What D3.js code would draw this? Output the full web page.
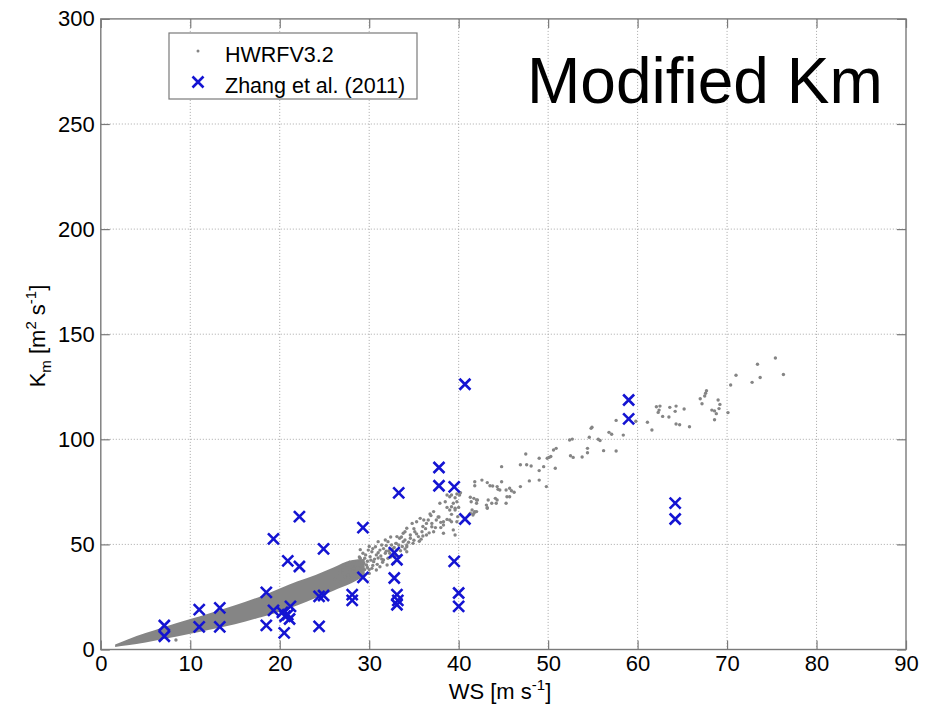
<!DOCTYPE html>
<html>
<head>
<meta charset="utf-8">
<script src="https://cdn.jsdelivr.net/npm/d3@7/dist/d3.min.js"></script>
<style>
  html, body { margin: 0; padding: 0; background: #fff; }
  svg { display: block; font-family: "Liberation Sans", Arial, Helvetica, sans-serif; }
</style>
</head>
<body>
<svg id="chart" width="932" height="713"></svg>
<script>
// Axis ticks
const xTicks = [0, 10, 20, 30, 40, 50, 60, 70, 80, 90];
const yTicks = [0, 50, 100, 150, 200, 250, 300];

// HWRFV3.2: dense low-wind band, given as lower/upper envelope of Km against WS
const bandWS    = [1.6, 3.0, 5.0, 7.0, 10.0, 12.0, 15.0, 18.0, 20.0, 22.0, 24.0, 26.0, 28.0, 29.5];
const bandLower = [1.2, 2.0, 3.3, 5.0, 7.5, 9.3, 12.0, 15.5, 18.0, 21.0, 24.5, 28.0, 31.5, 35.0];
const bandUpper = [2.4, 4.8, 7.8, 10.6, 14.5, 17.0, 21.0, 25.5, 29.0, 32.5, 35.5, 39.0, 42.5, 43.0];

// HWRFV3.2: individual points outside the dense band
const hwrfWS = [
  75.4, 76.3, 73.4, 73.7, 72.8, 71.0, 70.4, 70.1,
  67.7, 67.6, 67.5, 67.0, 67.2, 69.0, 69.2, 69.1, 68.3, 68.6, 68.8, 68.6,
  62.1, 62.5, 62.4, 62.3, 62.8, 63.6, 64.3, 64.2, 63.5, 65.2, 64.3, 64.7, 65.8, 61.1, 61.6,
  57.6, 58.4, 59.8,
  54.8, 54.9, 54.6, 55.6, 55.8, 56.8, 57.1, 57.6, 56.2, 54.4, 54.4, 53.8, 52.7, 52.4, 52.5, 52.8,
  50.9, 50.6, 50.1, 49.9, 50.3, 50.8, 49.8, 49.0, 49.0, 49.5, 48.1, 47.5, 47.6, 46.9, 47.9, 49.0,
  46.9, 44.8, 44.8, 45.7, 45.9, 46.2, 45.3, 44.4, 42.6, 41.8, 41.8, 43.2, 43.5, 43.8, 45.7, 45.4,
  44.1, 44.2, 43.3, 43.1, 43.2, 43.7, 45.3, 41.3, 41.4, 42.0, 42.0, 41.8, 41.3, 40.2, 39.8, 39.2,
  39.4, 39.8, 39.2, 39.6, 39.2, 39.8, 39.9, 41.6, 42.0,
  44.3, 44.6, 41.7, 42.1, 43.2, 44.3, 40.1, 39.6, 39.0, 38.7, 38.5, 37.9, 38.7, 39.0, 39.6, 39.2,
  40.0, 41.5, 41.7, 41.2, 38.7, 39.0, 38.3, 38.3, 39.4, 39.6, 37.2, 36.9, 36.6, 36.1, 35.7, 35.3,
  34.8, 36.4, 37.0, 37.2, 35.9, 35.1, 34.2, 33.8, 35.5, 36.4, 34.6, 34.0, 34.9, 34.2, 37.5, 38.3,
  34.0, 33.4, 33.1, 33.8, 34.2, 33.3, 32.5, 32.1, 31.8, 31.4, 31.0, 30.7, 31.2, 31.8, 32.3, 32.1,
  31.6, 30.8, 30.3, 29.9, 30.1, 29.5, 29.3, 29.0, 28.6, 29.2, 29.7, 30.5, 31.2, 30.8, 28.2, 27.9,
  27.5, 28.4, 27.1, 26.7, 27.3, 33.1, 33.4, 34.2, 32.7, 32.0, 30.3,
  26.2, 26.8, 27.6, 28.0, 28.8, 29.5, 30.0, 28.5, 27.8, 29.8, 31.0, 30.4, 32.6, 31.6, 30.0, 29.0,
  36.0, 37.8, 35.0, 36.8, 38.0, 33.0, 35.8, 32.9,
  28.3, 28.7, 29.1, 29.4, 29.8, 30.2, 30.6, 30.9, 31.3, 31.5, 31.9, 32.2, 32.4, 32.8, 33.0, 33.5,
  33.7, 34.0, 34.4, 34.6, 35.0, 35.3, 35.6, 36.0, 36.3, 36.7, 37.0, 37.4, 37.7, 38.0, 28.9, 29.6,
  30.4, 31.0, 31.9, 32.4, 30.0, 31.4, 32.9, 33.6,
  8.4
];
const hwrfKm = [
  138.7, 130.8, 135.7, 129.4, 127.1, 130.5, 125.8, 112.7,
  123.1, 121.9, 120.6, 119.3, 116.9, 118.7, 116.6, 114.6, 113.9, 113.5, 112.2, 109.3,
  115.5, 115.8, 113.9, 112.8, 110.9, 115.2, 115.8, 113.3, 110.6, 114.4, 107.3, 106.9, 106.0, 108.1, 104.4,
  109.0, 102.0, 108.6,
  105.2, 105.7, 101.0, 100.0, 99.4, 103.3, 102.4, 94.4, 94.6, 95.7, 93.6, 91.6, 100.1, 99.7, 92.2, 91.4,
  95.7, 94.9, 91.4, 91.0, 91.8, 86.2, 77.5, 91.0, 85.1, 87.0, 87.3, 93.0, 87.9, 87.9, 80.2, 80.6,
  77.5, 87.0, 79.8, 76.7, 75.5, 74.8, 75.9, 76.2, 80.6, 79.8, 77.9, 79.4, 77.9, 77.8, 72.7, 72.7,
  71.9, 69.6, 71.1, 68.7, 67.5, 69.6, 69.6, 72.4, 70.3, 71.1, 69.6, 65.6, 64.8, 74.6, 74.0, 73.5,
  69.6, 70.3, 67.9, 67.2, 60.8, 60.8, 63.2, 64.0, 65.6,
  77.5, 75.9, 71.9, 71.1, 67.2, 71.1, 73.5, 72.2, 72.7, 73.5, 70.3, 69.6, 67.6, 66.4, 66.4, 64.3,
  67.6, 66.4, 64.8, 64.3, 61.9, 61.6, 60.8, 59.2, 56.9, 54.5, 65.6, 63.7, 61.6, 61.6, 62.4, 60.8,
  60.0, 60.0, 58.4, 56.0, 56.0, 56.0, 57.7, 55.3, 53.7, 54.5, 52.9, 52.1, 50.5, 49.7, 61.6, 55.3,
  56.0, 52.9, 53.7, 51.3, 48.9, 49.7, 49.7, 51.3, 52.1, 49.7, 51.3, 48.9, 47.3, 45.8, 45.8, 43.4,
  42.6, 45.0, 46.5, 47.3, 44.1, 43.4, 45.8, 43.4, 41.8, 40.2, 40.2, 41.8, 39.4, 37.8, 39.4, 37.8,
  40.2, 37.0, 37.8, 36.3, 34.6, 47.3, 44.1, 46.5, 41.0, 40.2, 38.6,
  33.5, 32.0, 35.5, 33.8, 36.0, 38.0, 36.2, 35.0, 41.5, 42.0, 43.5, 40.0, 47.8, 48.0, 49.0, 47.5,
  58.5, 63.0, 57.5, 64.5, 58.0, 50.5, 52.5, 44.5,
  38.5, 39.0, 38.2, 41.0, 39.0, 42.5, 43.0, 40.5, 44.5, 41.5, 46.8, 47.0, 44.0, 48.5, 50.5, 47.0,
  49.0, 47.8, 51.0, 54.5, 52.0, 55.0, 51.5, 54.0, 57.5, 55.5, 60.0, 58.0, 63.0, 60.5, 44.0, 45.0,
  48.0, 46.0, 49.5, 53.5, 38.0, 43.0, 45.0, 53.5,
  4.5
];

// Zhang et al. (2011) observations
const zhangWS = [
  7.1, 7.1, 11.0, 11.0, 13.3, 13.3, 18.5, 18.5, 19.3, 19.3,
  20.5, 20.3, 20.6, 20.9, 21.2, 21.1, 20.9, 22.2, 22.2,
  24.4, 24.4, 24.9, 24.9, 28.1, 28.1, 29.3, 29.3,
  32.8, 33.1, 32.8, 33.1, 33.2, 33.1, 33.3,
  37.8, 37.8, 39.5, 39.5, 40.0, 40.0, 40.7, 40.7,
  59.0, 59.0, 64.2, 64.2
];
const zhangKm = [
  11.4, 6.3, 19.0, 10.8, 19.8, 10.8, 27.2, 11.5, 52.6, 18.6,
  7.9, 17.7, 15.8, 16.6, 20.5, 14.5, 42.2, 39.5, 63.2,
  11.0, 25.3, 47.9, 25.7, 26.1, 23.4, 58.0, 34.3,
  46.1, 42.7, 34.0, 26.1, 23.4, 21.3, 74.5,
  86.6, 77.9, 77.4, 41.9, 26.9, 20.5, 126.2, 62.1,
  118.7, 109.7, 69.6, 62.1
];

const legendLabels = ["HWRFV3.2", "Zhang et al. (2011)"];
const titleText = "Modified Km";

const svg = d3.select("#chart");
const plotL = 100.8, plotR = 906, plotT = 18.9, plotB = 649.5;

const x = d3.scaleLinear().domain([0, 90]).range([plotL, plotR]);
const y = d3.scaleLinear().domain([0, 300]).range([plotB, plotT]);

const grayCol = "#858585";
const blueCol = "#1414d2";
const frameCol = "#7a7a7a";

// grid
const grid = svg.append("g");
grid.selectAll("line.gx").data(xTicks.slice(1, -1)).join("line")
  .attr("x1", d => x(d)).attr("x2", d => x(d))
  .attr("y1", plotT).attr("y2", plotB)
  .attr("stroke", "#a8a8a8").attr("stroke-width", 1).attr("stroke-dasharray", "1,2");
grid.selectAll("line.gy").data(yTicks.slice(1, -1)).join("line")
  .attr("x1", plotL).attr("x2", plotR)
  .attr("y1", d => y(d)).attr("y2", d => y(d))
  .attr("stroke", "#a8a8a8").attr("stroke-width", 1).attr("stroke-dasharray", "1,2");

// dense band of model points
const bandData = bandWS.map((w, i) => ({ w, lo: bandLower[i], hi: bandUpper[i] }));
svg.append("path")
  .datum(bandData)
  .attr("d", d3.area().curve(d3.curveMonotoneX)
    .x(d => x(d.w)).y0(d => y(d.lo)).y1(d => y(d.hi)))
  .attr("fill", grayCol);

// scattered model points
svg.append("g").selectAll("circle").data(hwrfWS.map((w, i) => [w, hwrfKm[i]])).join("circle")
  .attr("cx", d => x(d[0])).attr("cy", d => y(d[1]))
  .attr("r", 1.7).attr("fill", grayCol);

// observation crosses
const xs = 5.5;
const crossPath = (cx, cy) => `M${cx - xs},${cy - xs}L${cx + xs},${cy + xs}M${cx - xs},${cy + xs}L${cx + xs},${cy - xs}`;
svg.append("g").selectAll("path").data(zhangWS.map((w, i) => [w, zhangKm[i]])).join("path")
  .attr("d", d => crossPath(x(d[0]), y(d[1])))
  .attr("stroke", blueCol).attr("stroke-width", 2.6).attr("fill", "none");

// axes with inward ticks
const tickLen = 9;
const xAxis = svg.append("g").attr("transform", `translate(0,${plotB})`)
  .call(d3.axisBottom(x).tickValues(xTicks).tickSize(-tickLen).tickFormat(d3.format("d")));
const yAxis = svg.append("g").attr("transform", `translate(${plotL},0)`)
  .call(d3.axisLeft(y).tickValues(yTicks).tickSize(-tickLen).tickFormat(d3.format("d")));
const xTop = svg.append("g").attr("transform", `translate(0,${plotT})`)
  .call(d3.axisTop(x).tickValues(xTicks).tickSize(-tickLen).tickFormat(""));
const yRight = svg.append("g").attr("transform", `translate(${plotR},0)`)
  .call(d3.axisRight(y).tickValues(yTicks).tickSize(-tickLen).tickFormat(""));

[xAxis, yAxis, xTop, yRight].forEach(g => {
  g.select(".domain").remove();
  g.selectAll(".tick line").attr("stroke", frameCol).attr("stroke-width", 1.2);
  g.selectAll("text").attr("fill", "#000").attr("font-size", 22)
    .attr("font-family", "'Liberation Sans', Arial, sans-serif");
});
xAxis.selectAll("text").attr("dy", "0.71em").attr("y", 6);
yAxis.selectAll("text").attr("x", -6);

// frame
svg.append("rect")
  .attr("x", plotL).attr("y", plotT).attr("width", plotR - plotL).attr("height", plotB - plotT)
  .attr("fill", "none").attr("stroke", frameCol).attr("stroke-width", 1.4);

// axis titles
const xt = svg.append("text").attr("x", 500).attr("y", 699).attr("text-anchor", "middle")
  .attr("font-size", 22).attr("fill", "#000");
xt.append("tspan").text("WS [m s");
xt.append("tspan").attr("dy", -9).attr("font-size", 15).text("-1");
xt.append("tspan").attr("dy", 9).text("]");

const yt = svg.append("text").attr("transform", "translate(45,336) rotate(-90)")
  .attr("text-anchor", "middle").attr("font-size", 22).attr("fill", "#000");
yt.append("tspan").text("K");
yt.append("tspan").attr("dy", 6).attr("font-size", 15).text("m");
yt.append("tspan").attr("dy", -6).text(" [m");
yt.append("tspan").attr("dy", -9).attr("font-size", 15).text("2");
yt.append("tspan").attr("dy", 9).text(" s");
yt.append("tspan").attr("dy", -9).attr("font-size", 15).text("-1");
yt.append("tspan").attr("dy", 9).text("]");

// legend
const lg = svg.append("g");
lg.append("rect").attr("x", 169).attr("y", 33).attr("width", 248).attr("height", 66)
  .attr("fill", "#fff").attr("stroke", frameCol).attr("stroke-width", 1.2);
lg.append("circle").attr("cx", 198).attr("cy", 51).attr("r", 1.5).attr("fill", grayCol);
lg.append("path").attr("d", crossPath(198, 82)).attr("stroke", blueCol)
  .attr("stroke-width", 2.6).attr("fill", "none");
lg.selectAll("text").data(legendLabels).join("text")
  .attr("x", 225).attr("y", (d, i) => 62 + i * 31)
  .attr("font-size", 21.5).attr("fill", "#000").text(d => d);

// panel title
svg.append("text").attr("x", 527).attr("y", 103).attr("font-size", 64).attr("fill", "#000")
  .text(titleText);
</script>
</body>
</html>
